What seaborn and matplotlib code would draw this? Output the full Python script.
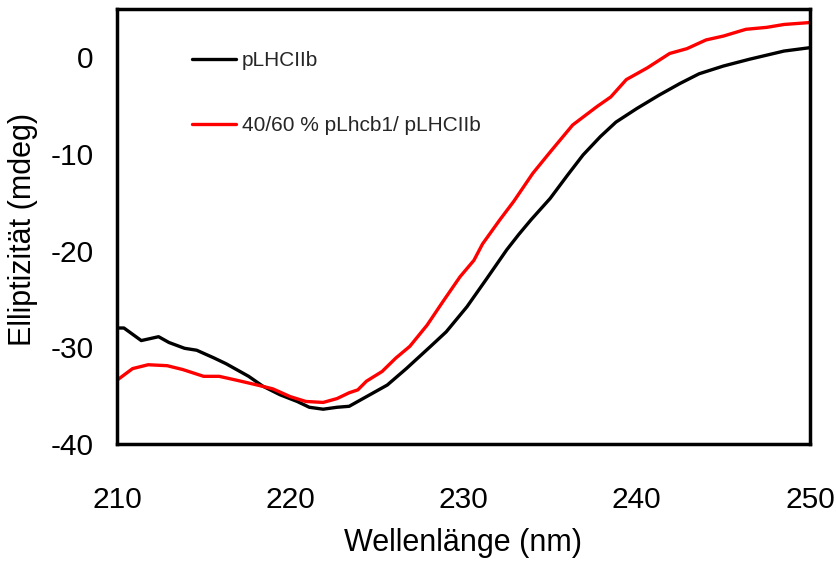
import matplotlib
matplotlib.use("Agg")
import matplotlib.pyplot as plt
import seaborn as sns
import pandas as pd

# ---- data ----
wl_black = [210.0, 210.4, 211.4, 212.4, 213.0, 213.9, 214.6, 215.6, 216.3, 217.1,
            217.6, 218.4, 219.4, 220.4, 221.1, 221.9, 222.7, 223.4, 224.4, 225.6,
            226.7, 228.1, 229.0, 230.2, 231.3, 232.5, 233.2, 233.9, 235.0, 236.0,
            236.9, 237.9, 238.8, 240.0, 241.3, 242.5, 243.6, 245.0, 246.5, 248.5,
            250.0]
cd_black = [-28.0, -28.0, -29.3, -28.9, -29.5, -30.1, -30.3, -31.1, -31.7, -32.5,
            -33.0, -34.0, -34.9, -35.6, -36.2, -36.4, -36.2, -36.1, -35.1, -33.9,
            -32.2, -29.9, -28.4, -25.8, -23.0, -19.9, -18.3, -16.8, -14.6, -12.2,
            -10.1, -8.2, -6.7, -5.3, -3.9, -2.7, -1.7, -0.9, -0.2, 0.65,
            1.0]

wl_red = [210.0, 210.9, 211.8, 212.9, 213.8, 215.0, 215.9, 216.9, 218.1, 219.0,
          220.0, 220.9, 221.9, 222.7, 223.4, 223.9, 224.4, 225.3, 226.1, 226.9,
          227.9, 228.8, 229.8, 230.6, 231.1, 232.1, 232.9, 234.0, 235.0, 236.3,
          237.7, 238.5, 239.4, 240.6, 241.9, 242.9, 244.0, 245.0, 246.3, 247.5,
          248.5, 250.0]
cd_red = [-33.4, -32.2, -31.8, -31.9, -32.3, -33.0, -33.0, -33.4, -33.9, -34.3,
          -35.1, -35.6, -35.7, -35.3, -34.7, -34.4, -33.5, -32.5, -31.1, -29.9,
          -27.7, -25.3, -22.7, -21.0, -19.3, -16.8, -14.9, -12.0, -9.8, -7.0,
          -5.1, -4.1, -2.3, -1.1, 0.4, 0.9, 1.8, 2.2, 2.9, 3.1,
          3.4, 3.6]

label_black = "pLHCIIb"
label_red = "40/60 % pLhcb1/ pLHCIIb"
x_ticks = [210, 220, 230, 240, 250]
y_ticks = [-40, -30, -20, -10, 0]
x_label = "Wellenlänge (nm)"
y_label = "Elliptizität (mdeg)"

# ---- styling ----
sns.set_theme(style="white")
plt.rcParams["font.family"] = ["Liberation Sans", "DejaVu Sans"]

fig = plt.figure(figsize=(8.37, 5.63), dpi=100)
ax = fig.add_axes([117 / 837, 1 - 444 / 563, 693 / 837, 435 / 563])

df_black = pd.DataFrame({"wl": wl_black, "cd": cd_black})
df_red = pd.DataFrame({"wl": wl_red, "cd": cd_red})
sns.lineplot(data=df_black, x="wl", y="cd", color="black", linewidth=2.4,
             label=label_black, ax=ax, sort=False)
sns.lineplot(data=df_red, x="wl", y="cd", color="#ff0000", linewidth=2.4,
             label=label_red, ax=ax, sort=False)

ax.set_xlim(210, 250)
ax.set_ylim(-40, 5)
ax.set_xticks(x_ticks)
ax.set_yticks(y_ticks)
ax.set_xticklabels([str(t) for t in x_ticks])
ax.set_yticklabels([str(t) for t in y_ticks])

for s in ax.spines.values():
    s.set_visible(True)
    s.set_color("black")
    s.set_linewidth(2.5)

ax.tick_params(axis="both", direction="out", length=7, width=0.8, color="black",
               labelsize=21.5, labelcolor="black")
ax.tick_params(axis="x", pad=23)
ax.tick_params(axis="y", pad=10)

ax.set_xlabel(x_label, fontsize=22, color="black", va="center")
ax.xaxis.set_label_coords(0.5, (444 - 543) / 435)
ax.set_ylabel(y_label, fontsize=22, color="black", va="center")
ax.yaxis.set_label_coords((23 - 117) / 693, (444 - 229) / 435)

ax.legend(frameon=False, loc="upper left",
          bbox_to_anchor=((192 - 117) / 693, (444 - 51) / 435),
          fontsize=15, handlelength=2.1, handletextpad=0.3,
          labelspacing=2.2, borderpad=0, borderaxespad=0)

fig.savefig("out.png", dpi=100, facecolor="white")
